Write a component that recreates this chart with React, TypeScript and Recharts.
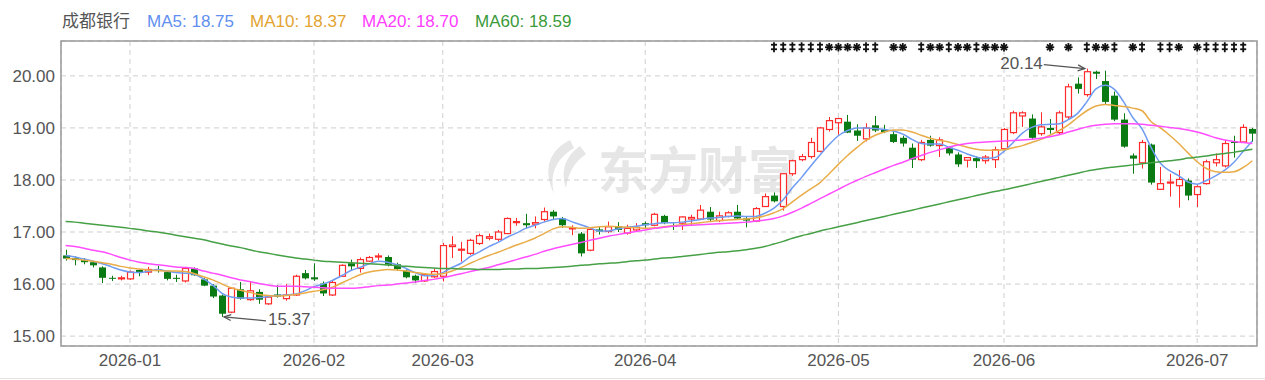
import React from 'react';
import {
  ComposedChart, Bar, Line, Scatter, XAxis, YAxis, CartesianGrid,
  ReferenceDot, ReferenceArea,
} from 'recharts';

// trading days per month (2025-12 .. 2026-07)
const DEC = [23, 24, 25, 26, 29, 30, 31];
const JAN = [5, 6, 7, 8, 9, 12, 13, 14, 15, 16, 19, 20, 21, 22, 23, 26, 27, 28, 29, 30];
const FEB = [2, 3, 4, 5, 6, 9, 10, 11, 12, 13, 24, 25, 26, 27];
const MAR = [2, 3, 4, 5, 6, 9, 10, 11, 12, 13, 16, 17, 18, 19, 20, 23, 24, 25, 26, 27, 30, 31];
const APR = [1, 2, 3, 7, 8, 9, 10, 13, 14, 15, 16, 17, 20, 21, 22, 23, 24, 27, 28, 29, 30];
const MAY = [6, 7, 8, 11, 12, 13, 14, 15, 18, 19, 20, 21, 22, 25, 26, 27, 28, 29];
const JUN = [1, 2, 3, 4, 5, 8, 9, 10, 11, 12, 15, 16, 17, 18, 22, 23, 24, 25, 26, 29, 30];
const JUL = [1, 2, 3, 6, 7, 8, 9];

const TICK_DATES = ['2026-01-05', '2026-02-02', '2026-03-02', '2026-04-01', '2026-05-06', '2026-06-01', '2026-07-01'];
const Y_TICKS = [15, 16, 17, 18, 19, 20];

const OPEN = [
  16.55, 16.50, 16.46, 16.42, 16.32, 16.12, 16.10, 16.10, 16.27, 16.23,
  16.28, 16.23, 16.12, 16.06, 16.30, 16.09, 15.97, 15.78, 15.46, 15.90,
  15.70, 15.85, 15.62, 15.80, 15.72, 15.79, 16.21, 16.13, 16.01, 15.79,
  16.15, 16.40, 16.30, 16.44, 16.52, 16.52, 16.38, 16.26, 16.16, 16.06,
  16.14, 16.15, 16.72, 16.65, 16.59, 16.78, 16.88, 16.86, 16.97, 17.18,
  17.17, 17.15, 17.24, 17.39, 17.26, 17.06, 16.97, 16.65, 17.05, 17.01,
  17.11, 16.98, 17.04, 17.17, 17.13, 17.31, 17.12, 17.17, 17.25, 17.25,
  17.39, 17.22, 17.30, 17.39, 17.26, 17.21, 17.49, 17.70, 17.49, 18.12,
  18.39, 18.45, 18.55, 18.97, 19.10, 19.12, 18.95, 18.79, 19.05, 18.96,
  18.88, 18.81, 18.62, 18.39, 18.77, 18.66, 18.62, 18.49, 18.38, 18.42,
  18.37, 18.39, 18.60, 18.91, 19.23, 19.18, 18.89, 19.00, 18.91, 19.21,
  19.85, 19.64, 20.08, 19.90, 19.62, 19.16, 18.47, 18.33, 18.68, 17.82,
  17.94, 17.89, 17.99, 17.72, 17.93, 18.33, 18.27, 18.73, 18.73, 18.98,
];
const HIGH = [
  16.66, 16.53, 16.50, 16.44, 16.34, 16.16, 16.16, 16.26, 16.28, 16.33,
  16.35, 16.25, 16.18, 16.33, 16.32, 16.12, 16.00, 15.80, 15.93, 16.04,
  16.05, 15.90, 15.79, 15.98, 16.00, 16.18, 16.27, 16.40, 16.05, 16.07,
  16.38, 16.47, 16.51, 16.54, 16.59, 16.55, 16.41, 16.28, 16.18, 16.21,
  16.30, 16.79, 16.92, 16.81, 16.87, 16.97, 16.97, 17.04, 17.28, 17.27,
  17.35, 17.30, 17.47, 17.42, 17.29, 17.13, 17.00, 17.07, 17.10, 17.20,
  17.19, 17.14, 17.17, 17.20, 17.37, 17.33, 17.17, 17.30, 17.33, 17.52,
  17.48, 17.39, 17.40, 17.52, 17.29, 17.48, 17.74, 17.76, 18.13, 18.39,
  18.50, 18.81, 19.02, 19.21, 19.19, 19.25, 19.07, 19.09, 19.23, 19.06,
  18.93, 18.85, 18.70, 18.77, 18.85, 18.82, 18.64, 18.53, 18.44, 18.45,
  18.48, 18.64, 19.00, 19.33, 19.32, 19.26, 19.30, 19.17, 19.33, 19.85,
  19.97, 20.14, 20.10, 20.10, 19.70, 19.28, 18.51, 18.77, 18.70, 18.25,
  18.12, 18.19, 18.03, 17.90, 18.39, 18.51, 18.77, 18.85, 19.07, 19.00,
];
const LOW = [
  16.45, 16.36, 16.38, 16.32, 16.02, 16.06, 16.07, 16.08, 16.15, 16.17,
  16.22, 16.07, 16.04, 16.03, 16.16, 15.96, 15.73, 15.37, 15.44, 15.70,
  15.68, 15.62, 15.60, 15.74, 15.68, 15.77, 16.09, 16.06, 15.77, 15.77,
  16.14, 16.25, 16.22, 16.43, 16.46, 16.34, 16.26, 16.11, 16.02, 16.04,
  16.12, 16.05, 16.50, 16.43, 16.56, 16.75, 16.84, 16.82, 16.96, 17.12,
  17.07, 17.07, 17.20, 17.23, 17.08, 16.94, 16.53, 16.63, 16.95, 16.98,
  17.00, 16.95, 17.00, 17.07, 17.11, 17.15, 17.04, 17.04, 17.13, 17.23,
  17.21, 17.19, 17.28, 17.24, 17.09, 17.19, 17.48, 17.57, 17.41, 18.08,
  18.36, 18.41, 18.53, 18.93, 18.87, 18.90, 18.75, 18.74, 18.92, 18.90,
  18.71, 18.64, 18.23, 18.36, 18.64, 18.44, 18.47, 18.25, 18.24, 18.23,
  18.31, 18.23, 18.56, 18.88, 19.02, 18.77, 18.85, 18.89, 18.88, 19.17,
  19.66, 19.60, 19.94, 19.46, 19.13, 18.62, 18.12, 18.22, 17.91, 17.81,
  17.68, 17.47, 17.61, 17.48, 17.91, 18.26, 18.24, 18.43, 18.71, 18.73,
];
const CLOSE = [
  16.49, 16.46, 16.42, 16.36, 16.12, 16.11, 16.12, 16.23, 16.23, 16.28,
  16.25, 16.10, 16.10, 16.30, 16.17, 15.97, 15.76, 15.43, 15.92, 15.72,
  15.87, 15.70, 15.75, 15.76, 15.79, 16.15, 16.11, 16.09, 15.82, 16.03,
  16.36, 16.34, 16.47, 16.51, 16.54, 16.36, 16.29, 16.13, 16.07, 16.18,
  16.24, 16.74, 16.75, 16.67, 16.84, 16.93, 16.91, 17.00, 17.26, 17.20,
  17.13, 17.18, 17.39, 17.30, 17.13, 17.08, 16.59, 17.05, 17.01, 17.10,
  17.04, 17.07, 17.09, 17.13, 17.34, 17.17, 17.10, 17.29, 17.28, 17.42,
  17.24, 17.31, 17.37, 17.26, 17.22, 17.45, 17.68, 17.59, 18.12, 18.37,
  18.45, 18.72, 19.00, 19.14, 19.18, 18.91, 18.85, 19.00, 18.95, 18.92,
  18.73, 18.70, 18.39, 18.72, 18.66, 18.77, 18.51, 18.30, 18.43, 18.36,
  18.44, 18.58, 18.97, 19.29, 19.29, 18.81, 19.02, 18.96, 19.29, 19.79,
  19.75, 20.08, 20.04, 19.50, 19.16, 18.64, 18.41, 18.72, 17.95, 17.93,
  17.96, 18.01, 17.70, 17.87, 18.35, 18.39, 18.70, 18.71, 19.01, 18.89,
];

const MA5 = [
  16.55, 16.52, 16.48, 16.44, 16.39, 16.33, 16.27, 16.23, 16.22, 16.25,
  16.28, 16.25, 16.22, 16.21, 16.19, 16.10, 15.98, 15.82, 15.75, 15.73,
  15.73, 15.74, 15.76, 15.78, 15.79, 15.81, 15.87, 15.95, 16.00, 16.07,
  16.16, 16.26, 16.32, 16.39, 16.44, 16.42, 16.37, 16.30, 16.22, 16.16,
  16.17, 16.22, 16.32, 16.40, 16.53, 16.62, 16.72, 16.80, 16.90, 16.98,
  17.07, 17.13, 17.19, 17.24, 17.26, 17.20, 17.14, 17.08, 17.02, 17.02,
  17.06, 17.09, 17.11, 17.14, 17.16, 17.18, 17.18, 17.19, 17.21, 17.24,
  17.27, 17.28, 17.30, 17.31, 17.30, 17.30, 17.36, 17.46, 17.62, 17.85,
  18.05, 18.27, 18.48, 18.68, 18.85, 18.95, 19.00, 19.00, 18.99, 18.97,
  18.94, 18.88, 18.78, 18.70, 18.69, 18.69, 18.63, 18.57, 18.50, 18.44,
  18.41, 18.43, 18.55, 18.72, 18.90, 19.01, 19.06, 19.07, 19.08, 19.16,
  19.28, 19.50, 19.75, 19.82, 19.74, 19.50, 19.20, 18.98, 18.62, 18.32,
  18.18, 18.08, 17.96, 17.92, 17.99, 18.08, 18.19, 18.34, 18.55, 18.75,
];
const MA10 = [
  16.49, 16.48, 16.46, 16.44, 16.41, 16.38, 16.34, 16.31, 16.29, 16.27,
  16.26, 16.25, 16.25, 16.24, 16.20, 16.14, 16.08, 16.00, 15.93, 15.88,
  15.84, 15.80, 15.78, 15.77, 15.78, 15.80, 15.83, 15.86, 15.89, 15.94,
  16.02, 16.10, 16.18, 16.23, 16.26, 16.28, 16.27, 16.25, 16.22, 16.20,
  16.19, 16.20, 16.25, 16.32, 16.40, 16.48, 16.55, 16.61, 16.68, 16.75,
  16.81, 16.88, 16.97, 17.06, 17.10, 17.09, 17.07, 17.08, 17.10, 17.11,
  17.10, 17.09, 17.08, 17.07, 17.08, 17.10, 17.12, 17.14, 17.16, 17.18,
  17.20, 17.22, 17.23, 17.24, 17.25, 17.27, 17.31, 17.37, 17.45, 17.58,
  17.71, 17.83, 17.95, 18.12, 18.30, 18.47, 18.62, 18.76, 18.86, 18.92,
  18.96, 18.96, 18.92, 18.86, 18.80, 18.76, 18.73, 18.68, 18.63, 18.59,
  18.57, 18.57, 18.58, 18.62, 18.66, 18.72, 18.78, 18.86, 18.95, 19.06,
  19.20, 19.33, 19.42, 19.45, 19.43, 19.41, 19.38, 19.33, 19.12, 19.00,
  18.86, 18.70, 18.52, 18.35, 18.22, 18.16, 18.15, 18.16, 18.24, 18.37,
];
const MA20 = [
  16.74, 16.72, 16.69, 16.65, 16.62, 16.57, 16.51, 16.46, 16.42, 16.39,
  16.37, 16.35, 16.33, 16.32, 16.30, 16.25, 16.21, 16.17, 16.12, 16.08,
  16.05, 16.01, 15.98, 15.96, 15.96, 15.96, 15.95, 15.94, 15.93, 15.92,
  15.92, 15.92, 15.93, 15.95, 15.97, 15.98, 16.00, 16.02, 16.04, 16.07,
  16.09, 16.12, 16.16, 16.20, 16.24, 16.28, 16.32, 16.37, 16.42, 16.47,
  16.52, 16.57, 16.63, 16.68, 16.72, 16.76, 16.80, 16.84, 16.88, 16.92,
  16.95, 16.98, 17.01, 17.04, 17.07, 17.09, 17.11, 17.12, 17.13, 17.14,
  17.15, 17.16, 17.17, 17.18, 17.19, 17.21, 17.23, 17.26, 17.31, 17.38,
  17.46, 17.55, 17.64, 17.73, 17.82, 17.91, 17.99, 18.07, 18.14, 18.21,
  18.28, 18.34, 18.41, 18.47, 18.53, 18.58, 18.63, 18.67, 18.70, 18.72,
  18.73, 18.74, 18.75, 18.76, 18.77, 18.78, 18.80, 18.83, 18.87, 18.92,
  18.97, 19.02, 19.05, 19.07, 19.08, 19.08, 19.08, 19.07, 19.05, 19.03,
  19.01, 18.99, 18.96, 18.92, 18.87, 18.81, 18.77, 18.74, 18.72, 18.70,
];
const MA60 = [
  17.20, 17.19, 17.17, 17.15, 17.13, 17.11, 17.09, 17.07, 17.05, 17.02,
  17.00, 16.97, 16.94, 16.91, 16.88, 16.85, 16.81, 16.77, 16.73, 16.70,
  16.66, 16.62, 16.59, 16.56, 16.53, 16.50, 16.48, 16.46, 16.44, 16.43,
  16.42, 16.41, 16.40, 16.39, 16.38, 16.37, 16.35, 16.34, 16.33, 16.32,
  16.31, 16.30, 16.30, 16.29, 16.29, 16.28, 16.28, 16.28, 16.29, 16.29,
  16.30, 16.30, 16.31, 16.32, 16.33, 16.34, 16.36, 16.37, 16.39, 16.40,
  16.41, 16.43, 16.45, 16.46, 16.48, 16.50, 16.51, 16.53, 16.55, 16.57,
  16.59, 16.61, 16.62, 16.64, 16.66, 16.69, 16.72, 16.77, 16.82, 16.88,
  16.93, 16.97, 17.02, 17.06, 17.10, 17.14, 17.18, 17.22, 17.26, 17.30,
  17.34, 17.38, 17.42, 17.46, 17.50, 17.54, 17.58, 17.62, 17.66, 17.70,
  17.74, 17.78, 17.81, 17.85, 17.89, 17.93, 17.97, 18.01, 18.05, 18.09,
  18.13, 18.17, 18.20, 18.23, 18.25, 18.27, 18.29, 18.31, 18.33, 18.35,
  18.37, 18.39, 18.42, 18.44, 18.46, 18.49, 18.51, 18.53, 18.56, 18.59,
];

// event markers along the top of the plot
const MARK_IDX = [
  77, 78, 79, 80, 81, 82, 83, 84, 85, 86, 87, 88,
  90, 91,
  93, 94, 95, 96, 97, 98, 99, 100, 101, 102,
  107, 109,
  111, 112, 113, 114,
  116, 117,
  119, 120, 121,
  123, 124, 125, 126, 127, 128,
];
const MARK_GLYPH = [
  'd', 'd', 'd', 'd', 'd', 'd', 's', 's', 's', 's', 'd', 'd',
  's', 's',
  'd', 's', 's', 'd', 's', 's', 'd', 's', 's', 's',
  's', 's',
  'd', 's', 's', 'd',
  's', 'd',
  'd', 'd', 's',
  's', 'd', 'd', 'd', 'd', 'd',
];

const NAME = '成都银行';
const MA_SERIES = [
  { key: 'ma5', label: 'MA5', color: '#5f8ff0', line: '#6f9bf2', left: 147 },
  { key: 'ma10', label: 'MA10', color: '#e3a330', line: '#e9ac48', left: 250 },
  { key: 'ma20', label: 'MA20', color: '#ff3cff', line: '#ff4dff', left: 362 },
  { key: 'ma60', label: 'MA60', color: '#3a9a3a', line: '#46a046', left: 475 },
];

const RED = '#ff2a2a';
const GREEN = '#0a7a12';
const TEXT = '#555';
const FONT = '"Liberation Sans", Arial, "Noto Sans CJK SC", sans-serif';
const Y_MIN = 14.81;
const Y_MAX = 20.67;
const MARK_LEVEL = 20.55;

const monthDates = (ym: string, days: number[]) => days.map((d) => `${ym}-${String(d).padStart(2, '0')}`);
const DATES = [
  ...monthDates('2025-12', DEC), ...monthDates('2026-01', JAN), ...monthDates('2026-02', FEB),
  ...monthDates('2026-03', MAR), ...monthDates('2026-04', APR), ...monthDates('2026-05', MAY),
  ...monthDates('2026-06', JUN), ...monthDates('2026-07', JUL),
];

const data = DATES.map((date, i) => {
  const m = MARK_IDX.indexOf(i);
  return {
    date,
    open: OPEN[i], high: HIGH[i], low: LOW[i], close: CLOSE[i],
    range: [LOW[i], HIGH[i]],
    ma5: MA5[i], ma10: MA10[i], ma20: MA20[i], ma60: MA60[i],
    glyph: m >= 0 ? MARK_GLYPH[m] : null,
    mark: m >= 0 ? MARK_LEVEL : null,
  };
});

const maxHigh = Math.max(...HIGH);
const minLow = Math.min(...LOW);
const hiIdx = HIGH.indexOf(maxHigh);
const loIdx = LOW.indexOf(minLow);

const Candle = (props: any) => {
  const { x, y, width, height, payload } = props;
  if (!payload || !isFinite(y)) return <g />;
  const { open, close, high, low } = payload;
  const top = Math.min(y, y + height);
  const h = Math.abs(height);
  const k = high > low ? h / (high - low) : 0;
  const py = (v: number) => top + (high - v) * k;
  const up = close >= open;
  const color = up ? RED : GREEN;
  const cx = Math.round(x + width / 2) + 0.5;
  const bTop = py(Math.max(open, close));
  const bh = Math.max(py(Math.min(open, close)) - bTop, 1);
  const left = cx - 3.5;
  return (
    <g>
      <line x1={cx} x2={cx} y1={top} y2={top + h} stroke={color} strokeWidth={1} />
      {up ? (
        <rect x={left + 0.5} y={bTop} width={6} height={Math.max(bh, 0.5)} fill="#fff" stroke={color} strokeWidth={1.2} />
      ) : (
        <rect x={left} y={bTop} width={7} height={bh} fill={color} />
      )}
    </g>
  );
};

// small black event glyphs: "d" = double-dagger, "s" = star
const Glyph = (props: any) => {
  const { cx, cy, payload } = props;
  if (!payload || !payload.glyph || !isFinite(cy)) return <g />;
  if (payload.glyph === 'd') {
    return (
      <g stroke="#111" strokeWidth={1.8}>
        <line x1={cx} x2={cx} y1={cy - 5} y2={cy + 5} />
        <line x1={cx - 3} x2={cx + 3} y1={cy - 2.5} y2={cy - 2.5} />
        <line x1={cx - 3} x2={cx + 3} y1={cy + 2} y2={cy + 2} />
      </g>
    );
  }
  const r = 4.2;
  const d = r * 0.707;
  return (
    <g stroke="#111" strokeWidth={1.8}>
      <line x1={cx} x2={cx} y1={cy - r} y2={cy + r} />
      <line x1={cx - r} x2={cx + r} y1={cy} y2={cy} />
      <line x1={cx - d} x2={cx + d} y1={cy - d} y2={cy + d} />
      <line x1={cx - d} x2={cx + d} y1={cy + d} y2={cy - d} />
    </g>
  );
};

const Arrow = ({ x1, y1, x2, y2 }: { x1: number; y1: number; x2: number; y2: number }) => {
  const dx = x2 - x1;
  const dy = y2 - y1;
  const len = Math.hypot(dx, dy);
  const ux = dx / len;
  const uy = dy / len;
  const L = 7;
  const W = 3;
  const bx = x2 - ux * L;
  const by = y2 - uy * L;
  return (
    <g stroke={TEXT} strokeWidth={1.3} fill="none">
      <line x1={x1} y1={y1} x2={x2} y2={y2} />
      <polyline points={`${bx - uy * W},${by + ux * W} ${x2},${y2} ${bx + uy * W},${by - ux * W}`} />
    </g>
  );
};

const HighNote = (props: any) => {
  const { cx, cy } = props;
  return (
    <g>
      <Arrow x1={cx - 43} y1={cy - 4} x2={cx - 2} y2={cy} />
      <text x={cx - 44} y={cy - 5} textAnchor="end" dominantBaseline="central" fontSize={17} fill={TEXT} fontFamily={FONT}>
        {maxHigh.toFixed(2)}
      </text>
    </g>
  );
};

const LowNote = (props: any) => {
  const { cx, cy } = props;
  return (
    <g>
      <Arrow x1={cx + 44} y1={cy + 4} x2={cx + 2} y2={cy} />
      <text x={cx + 46} y={cy + 3} textAnchor="start" dominantBaseline="central" fontSize={17} fill={TEXT} fontFamily={FONT}>
        {minLow.toFixed(2)}
      </text>
    </g>
  );
};

export default function App() {
  const last = data[data.length - 1] as any;
  return (
    <div style={{ position: 'absolute', left: 0, top: 0, width: 1265, height: 380, background: '#fff', fontFamily: FONT, overflow: 'hidden' }}>
      {/* watermark */}
      <div style={{ position: 'absolute', left: 540, top: 138, display: 'flex', alignItems: 'center', zIndex: 0 }}>
        <svg width={50} height={58} viewBox="0 0 50 58">
          <path d="M30 2 C10 12 2 30 14 56 C10 38 14 22 34 10 Z" fill="#e6e6e6" />
          <path d="M40 8 C26 18 20 32 26 50 C28 36 34 24 46 16 Z" fill="#e6e6e6" />
        </svg>
        <span style={{ marginLeft: 8, fontSize: 50, fontWeight: 700, color: '#e6e6e6', fontFamily: '"Noto Sans CJK SC", sans-serif', lineHeight: '58px' }}>
          东方财富
        </span>
      </div>

      {/* title + MA legend */}
      <div style={{ position: 'absolute', left: 62, top: 12, fontSize: 17, color: TEXT, lineHeight: '20px', zIndex: 2 }}>{NAME}</div>
      {MA_SERIES.map((s) => (
        <div key={s.key} style={{ position: 'absolute', left: s.left, top: 12, fontSize: 17, color: s.color, lineHeight: '20px', zIndex: 2, whiteSpace: 'nowrap' }}>
          {s.label}: {last[s.key].toFixed(2)}
        </div>
      ))}

      <div style={{ position: 'absolute', left: 0, top: 0, zIndex: 1 }}>
        <ComposedChart width={1265} height={380} data={data} margin={{ top: 41, right: 8, bottom: 4, left: 6 }}>
          <CartesianGrid stroke="#cfcfcf" strokeDasharray="5 4" />
          <XAxis
            dataKey="date"
            ticks={TICK_DATES}
            interval={0}
            tickFormatter={(v: string) => v.slice(0, 7)}
            tick={{ fontSize: 17, fill: TEXT, fontFamily: FONT }}
            axisLine={false}
            tickLine={false}
            tickSize={0}
            tickMargin={8}
            height={30}
          />
          <YAxis
            type="number"
            domain={[Y_MIN, Y_MAX]}
            ticks={Y_TICKS}
            allowDataOverflow
            width={55}
            tickFormatter={(v: number) => v.toFixed(2)}
            tick={{ fontSize: 17, fill: TEXT, fontFamily: FONT }}
            axisLine={false}
            tickLine={false}
            tickSize={0}
            tickMargin={6}
          />
          <ReferenceArea y1={Y_MIN} y2={Y_MAX} fill="none" stroke="#999" strokeWidth={1.5} ifOverflow="visible" />
          <Bar dataKey="range" barSize={7} shape={Candle} isAnimationActive={false} />
          {MA_SERIES.map((s) => (
            <Line key={s.key} type="monotone" dataKey={s.key} stroke={s.line} strokeWidth={1.5}
              dot={false} activeDot={false} isAnimationActive={false} />
          ))}
          <Scatter dataKey="mark" shape={Glyph} isAnimationActive={false} />
          <ReferenceDot x={DATES[hiIdx]} y={maxHigh} shape={HighNote} ifOverflow="visible" />
          <ReferenceDot x={DATES[loIdx]} y={minLow} shape={LowNote} ifOverflow="visible" />
        </ComposedChart>
      </div>

      <div style={{ position: 'absolute', left: 0, top: 378, width: 1265, height: 1, background: '#e2e2e2' }} />
    </div>
  );
}
